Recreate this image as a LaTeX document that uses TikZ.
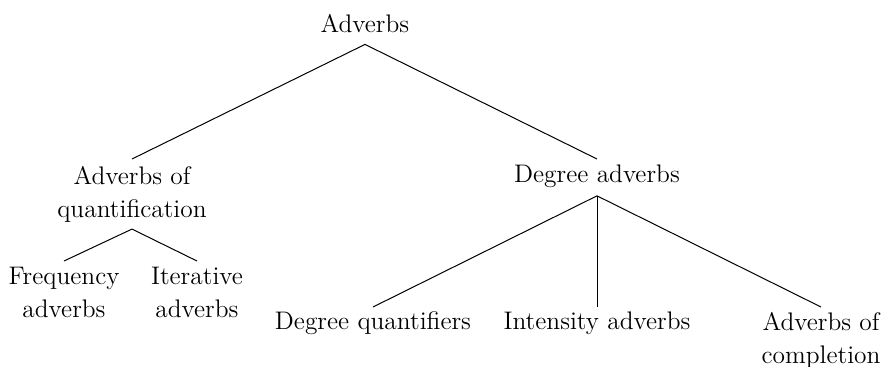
\documentclass[tikz,border=0pt]{standalone}
\begin{document}
\begin{tikzpicture}[x=0.5pt,y=-0.5pt,
  lbl/.style={inner sep=0pt,outer sep=0pt,anchor=north,align=center,
    font=\fontsize{12.7}{16.5}\selectfont},
  br/.style={line width=0.5pt}]
\useasboundingbox (0,0) rectangle (884,366);
\node[lbl] (adv) at (365,14) {Adverbs};
\node[lbl] (aq)  at (132,166) {Adverbs of\\quantification};
\node[lbl] (deg) at (597,165) {Degree adverbs};
\node[lbl] (freq) at (64,267) {Frequency\\adverbs};
\node[lbl] (iter) at (197,267) {Iterative\\adverbs};
\node[lbl] (dq) at (373,312) {Degree quantifiers};
\node[lbl] (int) at (597,312) {Intensity adverbs};
\node[lbl] (comp) at (821,312) {Adverbs of\\completion};
\draw[br] ([yshift=-6pt]adv.south) -- ([yshift=3.5pt]aq.north);
\draw[br] ([yshift=-6pt]adv.south) -- ([yshift=3pt]deg.north);
\draw[br] ([yshift=-3.5pt]aq.south) -- ([yshift=3pt]freq.north);
\draw[br] ([yshift=-3.5pt]aq.south) -- ([yshift=3pt]iter.north);
\draw[br] ([yshift=-4pt]deg.south) -- ([yshift=2.5pt]dq.north);
\draw[br] ([yshift=-4pt]deg.south) -- ([yshift=2.5pt]int.north);
\draw[br] ([yshift=-4pt]deg.south) -- ([yshift=2.5pt]comp.north);
\end{tikzpicture}
\end{document}
